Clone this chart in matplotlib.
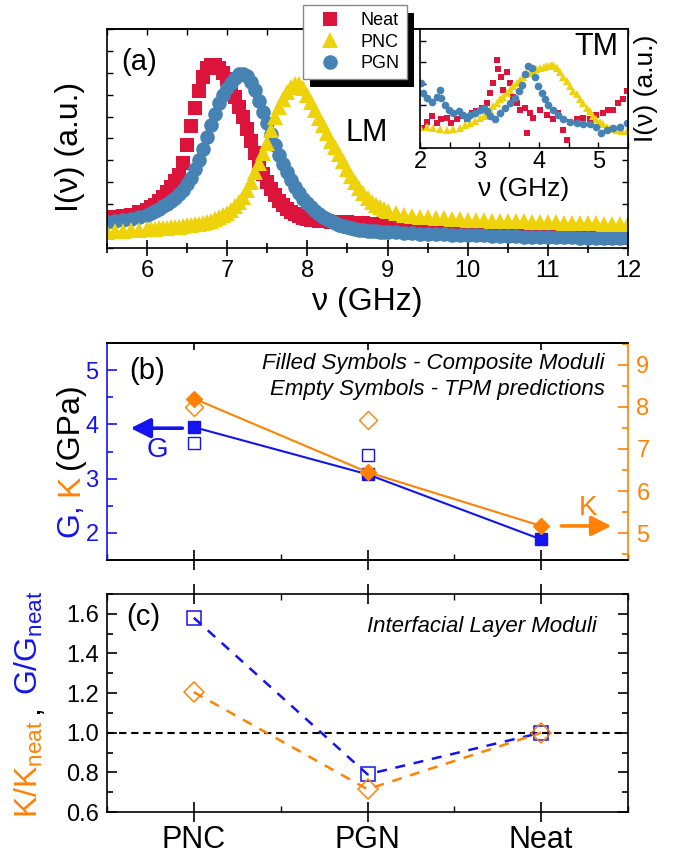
import matplotlib
matplotlib.use('Agg')
import matplotlib.pyplot as plt
from matplotlib.ticker import MultipleLocator, FixedLocator
from matplotlib.patches import Rectangle
from matplotlib.lines import Line2D

plt.rcParams['font.family'] = ['Liberation Sans', 'DejaVu Sans']
plt.rcParams['mathtext.fontset'] = 'custom'
plt.rcParams['mathtext.rm'] = 'Liberation Sans'
plt.rcParams['mathtext.it'] = 'Liberation Sans:italic'
plt.rcParams['axes.linewidth'] = 1.2

RED, YEL, STB = '#DC143C', '#EED20A', '#4682B4'
BLUE, ORNG = '#1414F0', '#FF8205'

# (a) longitudinal mode spectra, normalised intensity
freq_lm = [5.5, 5.6, 5.7, 5.8, 5.9,
           6.0, 6.05, 6.1, 6.15, 6.2, 6.25, 6.3, 6.35, 6.4, 6.45,
           6.5, 6.55, 6.6, 6.65, 6.7, 6.75, 6.8, 6.85, 6.9, 6.95,
           7.0, 7.05, 7.1, 7.15, 7.2, 7.25, 7.3, 7.35, 7.4, 7.45,
           7.5, 7.55, 7.6, 7.65, 7.7, 7.75, 7.8, 7.85, 7.9, 7.95,
           8.0, 8.05, 8.1, 8.15, 8.2, 8.25, 8.3, 8.35, 8.4, 8.45,
           8.5, 8.55, 8.6, 8.65, 8.7, 8.75, 8.8, 8.85, 8.9, 8.95, 9.0,
           9.1, 9.2, 9.3, 9.4, 9.5, 9.6, 9.7, 9.8, 9.9, 10.0,
           10.1, 10.2, 10.3, 10.4, 10.5, 10.6, 10.7, 10.8, 10.9, 11.0,
           11.1, 11.2, 11.3, 11.4, 11.5, 11.6, 11.7, 11.8, 11.9, 12.0]
neat_lm = [.135, .14, .145, .152, .162,
           .174, .185, .197, .215, .235, .257, .28, .305, .335, .39,
           .47, .555, .64, .715, .78, .82, .835, .835, .82, .80,
           .77, .73, .69, .645, .60, .545, .49, .435, .38, .34,
           .30, .27, .24, .215, .195, .18, .165, .155, .145, .138,
           .132, .129, .126, .124, .122, .121, .12, .119, .118, .118,
           .117, .116, .115, .114, .112, .11, .108, .105, .103, .10, .098,
           .093, .089, .085, .081, .078, .075, .072, .069, .066, .064,
           .062, .061, .06, .058, .057, .056, .055, .054, .053, .052,
           .051, .05, .05, .049, .048, .048, .047, .047, .046, .046]
pnc_lm = [.075, .077, .079, .081, .083,
          .086, .087, .088, .09, .091, .093, .094, .096, .098, .10,
          .103, .105, .108, .111, .115, .12, .125, .132, .14, .15,
          .16, .175, .19, .21, .235, .265, .30, .345, .39, .435,
          .48, .54, .60, .645, .68, .71, .735, .75, .75, .73,
          .70, .665, .63, .595, .56, .525, .49, .46, .43, .395,
          .36, .33, .30, .275, .25, .23, .21, .197, .185, .176, .168,
          .158, .15, .146, .142, .14, .137, .135, .133, .131, .128,
          .127, .126, .125, .124, .123, .122, .121, .12, .119, .118,
          .117, .116, .115, .114, .113, .112, .111, .11, .109, .108]
pgn_lm = [.12, .122, .126, .132, .14,
          .152, .16, .17, .18, .19, .202, .215, .23, .245, .265,
          .29, .32, .36, .40, .45, .505, .56, .61, .66, .70,
          .73, .755, .775, .795, .795, .785, .76, .72, .67, .62,
          .57, .52, .47, .425, .385, .345, .31, .28, .25, .225,
          .205, .185, .17, .155, .143, .132, .122, .113, .106, .10,
          .094, .09, .086, .083, .081, .079, .077, .076, .075, .074, .073,
          .071, .069, .067, .066, .064, .063, .062, .061, .06, .059,
          .058, .057, .056, .055, .054, .053, .052, .051, .05, .05,
          .049, .048, .048, .047, .047, .046, .046, .045, .045, .045]

# (a) inset, transverse mode
neat_tm_f = [2.03, 2.11, 2.2, 2.28, 2.36, 2.45, 2.53, 2.62, 2.7, 2.79, 2.87, 2.95, 3.04, 3.12,
             3.18, 3.23, 3.29, 3.32, 3.37, 3.4, 3.46, 3.52, 3.57, 3.63, 3.68, 3.77, 3.8, 3.85,
             3.91, 4.02, 4.13, 4.24, 4.33, 4.41, 4.47, 4.53, 4.64, 4.75, 4.86, 4.97, 5.08,
             5.17, 5.25, 5.33, 5.42, 5.48]
neat_tm = [.17, .22, .27, .21, .24, .25, .21, .24, .27, .24, .29, .31, .34, .38,
           .46, .55, .74, .66, .6, .49, .64, .55, .43, .38, .32, .34, .13, .29,
           .25, .32, .28, .24, .29, .15, .07, .22, .24, .25, .24, .28, .29,
           .32, .32, .38, .41, .48]
pnc_tm_f = [2.0, 2.11, 2.22, 2.33, 2.45, 2.56, 2.67, 2.76, 2.84, 2.93, 3.01, 3.07, 3.12, 3.18,
            3.23, 3.29, 3.35, 3.4, 3.46, 3.52, 3.57, 3.63, 3.68, 3.74, 3.79, 3.85, 3.91, 3.96,
            4.02, 4.08, 4.13, 4.18, 4.22, 4.26, 4.3, 4.36, 4.41, 4.47, 4.53, 4.58, 4.64, 4.7,
            4.75, 4.81, 4.86, 4.92, 4.97, 5.03, 5.08, 5.14, 5.2, 5.26, 5.31, 5.4, 5.48]
pnc_tm = [.18, .175, .17, .16, .15, .16, .17, .19, .21, .23, .25, .27, .29, .32,
          .35, .38, .41, .43, .46, .49, .52, .55, .57, .6, .62, .63, .64, .66,
          .67, .68, .69, .69, .695, .69, .67, .64, .6, .56, .52, .48, .45, .41,
          .38, .34, .31, .27, .24, .22, .2, .18, .17, .16, .15, .145, .14]
pgn_tm_f = [2.01, 2.05, 2.11, 2.2, 2.28, 2.33, 2.36, 2.42, 2.48, 2.56, 2.65, 2.73, 2.79, 2.84,
            2.93, 3.01, 3.07, 3.12, 3.18, 3.26, 3.35, 3.43, 3.52, 3.6, 3.66, 3.71, 3.77, 3.82,
            3.88, 3.94, 3.99, 4.05, 4.1, 4.16, 4.24, 4.33, 4.41, 4.53, 4.64, 4.75, 4.86,
            4.97, 5.05, 5.14, 5.25, 5.36, 5.48]
pgn_tm = [.55, .46, .42, .39, .43, .49, .42, .36, .32, .29, .31, .28, .25, .28,
          .29, .32, .34, .31, .27, .24, .29, .34, .38, .42, .48, .53, .62, .69,
          .67, .6, .52, .46, .41, .36, .32, .28, .24, .22, .21, .2, .2,
          .18, .13, .15, .17, .18, .21]

# (b) composite moduli (filled) and TPM predictions (empty)
samples = ['PNC', 'PGN', 'Neat']
g_comp = [3.95, 3.08, 1.88]
k_comp = [8.2, 6.45, 5.17]
g_tpm = [3.65, 3.43]
k_tpm = [8.0, 7.69]

# (c) interfacial layer moduli
g_ratio = [1.58, 0.79, 1.0]
k_ratio = [1.205, 0.715, 1.0]

TICK = 17
LAB = 23

fig = plt.figure(figsize=(6.75, 8.58), dpi=100)

# ---------------- (a)
ax = fig.add_axes([0.1585, 0.711, 0.7719, 0.2552])
ax.plot(freq_lm, neat_lm, 's', color=RED, ms=10, mew=0, label='Neat')
ax.plot(freq_lm, pgn_lm, 'o', color=STB, ms=10.5, mew=0, label='PGN')
ax.plot(freq_lm, pnc_lm, '^', color=YEL, ms=11.5, mew=0, label='PNC')
ax.set_xlim(5.5, 12)
ax.set_ylim(0, 1)
ax.xaxis.set_major_locator(MultipleLocator(1))
ax.xaxis.set_minor_locator(MultipleLocator(0.5))
ax.yaxis.set_major_locator(MultipleLocator(0.1))
ax.tick_params(axis='x', which='major', direction='inout', length=11, width=1.2,
               labelsize=TICK, pad=3)
ax.tick_params(axis='x', which='minor', direction='inout', length=7, width=1.2)
ax.tick_params(axis='y', which='major', direction='in', length=4, width=1,
               left=True, right=True, labelleft=False)
top_a = ax.secondary_xaxis('top')
top_a.xaxis.set_major_locator(MultipleLocator(0.5))
top_a.tick_params(direction='in', length=4, width=1, labeltop=False)
ax.set_xlabel('ν (GHz)', fontsize=LAB, labelpad=4)
ax.text(0.061, 0.85, '(a)', transform=ax.transAxes, fontsize=21, ha='center', va='center')
ax.text(8.74, 0.525, 'LM', fontsize=22, ha='center', va='center')
fig.text(70 / 675, 1 - 147 / 858, 'I(ν) (a.u.)', rotation=90, fontsize=LAB,
         ha='center', va='center')

# inset
ins = fig.add_axes([0.6222, 0.8275, 0.3081, 0.1387], zorder=3)
ins.plot(neat_tm_f, neat_tm, 's', color=RED, ms=5, mew=0)
ins.plot(pnc_tm_f, pnc_tm, '^', color=YEL, ms=6, mew=0)
ins.plot(pgn_tm_f, pgn_tm, 'o', color=STB, ms=5.5, mew=0)
ins.set_xlim(2, 5.5)
ins.set_ylim(0, 1)
ins.xaxis.set_major_locator(MultipleLocator(1))
ins.xaxis.set_minor_locator(MultipleLocator(0.5))
ins.yaxis.set_major_locator(MultipleLocator(0.18))
ins.tick_params(axis='both', which='both', direction='in', length=4, width=1)
ins.tick_params(axis='x', labelsize=TICK, pad=2)
ins.tick_params(axis='y', labelleft=False)
ins.set_xlabel('ν (GHz)', fontsize=19, labelpad=3)
ins.yaxis.set_label_position('right')
ins.set_ylabel('I(ν) (a.u.)', fontsize=19, labelpad=4)
ins.text(0.85, 0.85, 'TM', transform=ins.transAxes, fontsize=22, ha='center', va='center')

handles = [Line2D([], [], ls='none', marker='s', color=RED, ms=10, mew=0),
           Line2D([], [], ls='none', marker='^', color=YEL, ms=11.5, mew=0),
           Line2D([], [], ls='none', marker='o', color=STB, ms=10.5, mew=0)]
leg = fig.legend(handles, ['Neat', 'PNC', 'PGN'], loc='upper left',
                 bbox_to_anchor=(303 / 675, 1 - 5 / 858), fontsize=13,
                 fancybox=False, framealpha=1, edgecolor='#888888',
                 borderpad=0.4, handlelength=2.2, handletextpad=0.6,
                 labelspacing=0.25, borderaxespad=0)
leg.get_frame().set_linewidth(1.0)
leg.set_zorder(6)

# ---------------- (b)
xb = list(range(len(samples)))
axb = fig.add_axes([0.1585, 0.3473, 0.7719, 0.2529])
axk = axb.twinx()
axb.plot(xb, g_comp, '-s', color=BLUE, lw=1.5, ms=8)
axb.plot(xb[:2], g_tpm, 's', mfc='none', mec=BLUE, ms=9, mew=1)
axk.plot(xb, k_comp, '-D', color=ORNG, lw=1.5, ms=8.5)
axk.plot(xb[:2], k_tpm, 'D', mfc='none', mec=ORNG, ms=9.5, mew=1)
axb.set_xlim(-0.5, 2.5)
axb.set_ylim(1.5, 5.5)
axk.set_ylim(4.36, 9.52)
axb.spines['left'].set_color(BLUE)
axb.spines['right'].set_visible(False)
axk.spines['left'].set_visible(False)
axk.spines['right'].set_color(ORNG)
axb.xaxis.set_major_locator(FixedLocator(xb))
axb.xaxis.set_minor_locator(MultipleLocator(0.5))
axb.tick_params(axis='x', which='major', direction='inout', length=15, width=1.2,
                labelbottom=False)
axb.tick_params(axis='x', which='minor', direction='in', length=4, width=1)
top_b = axb.secondary_xaxis('top')
top_b.xaxis.set_major_locator(FixedLocator(xb))
top_b.tick_params(direction='in', length=5, width=1.2, labeltop=False)
axb.yaxis.set_major_locator(MultipleLocator(1))
axb.yaxis.set_minor_locator(MultipleLocator(0.5))
axb.tick_params(axis='y', which='both', direction='in', color=BLUE, labelcolor=BLUE,
                labelsize=TICK, pad=6, width=1.2)
axb.tick_params(axis='y', which='major', length=7)
axb.tick_params(axis='y', which='minor', length=4)
axk.yaxis.set_major_locator(MultipleLocator(1))
axk.yaxis.set_minor_locator(MultipleLocator(0.5))
axk.tick_params(axis='y', which='both', direction='in', color=ORNG, labelcolor=ORNG,
                labelsize=TICK, pad=6, width=1.2)
axk.tick_params(axis='y', which='major', length=7)
axk.tick_params(axis='y', which='minor', length=4)

axb.annotate('', xy=(-0.38, 3.93), xytext=(-0.05, 3.93),
             arrowprops=dict(arrowstyle='-|>', color=BLUE, lw=2.6, mutation_scale=30))
axb.text(-0.21, 3.52, 'G', color=BLUE, fontsize=20, ha='center', va='center')
axk.annotate('', xy=(2.42, 5.17), xytext=(2.1, 5.17),
             arrowprops=dict(arrowstyle='-|>', color=ORNG, lw=2.6, mutation_scale=30))
axk.text(2.27, 5.6, 'K', color=ORNG, fontsize=20, ha='center', va='center')
axb.text(0.077, 0.87, '(b)', transform=axb.transAxes, fontsize=21, ha='center', va='center')
axb.text(0.956, 0.905, 'Filled Symbols - Composite Moduli', transform=axb.transAxes,
         fontsize=16, style='italic', ha='right', va='center')
axb.text(0.956, 0.785, 'Empty Symbols - TPM predictions', transform=axb.transAxes,
         fontsize=16, style='italic', ha='right', va='center')

# ---------------- (c)
axc = fig.add_axes([0.1585, 0.0536, 0.7719, 0.2541])
axc.axhline(1.0, color='k', lw=1.5, ls=(0, (3.5, 2.3)))
axc.plot(xb, g_ratio, 's', ls=(0, (4, 3.5)), color=BLUE, mfc='none', mec=BLUE,
         lw=1.8, ms=10, mew=1.1)
axc.plot(xb, k_ratio, 'D', ls=(0, (4, 3.5)), color=ORNG, mfc='none', mec=ORNG,
         lw=1.8, ms=10, mew=1.1)
axc.set_xlim(-0.5, 2.5)
axc.set_ylim(0.6, 1.7)
axc.xaxis.set_major_locator(FixedLocator(xb))
axc.set_xticklabels(samples)
axc.xaxis.set_minor_locator(MultipleLocator(0.5))
axc.tick_params(axis='x', which='major', direction='inout', length=15, width=1.2,
                labelsize=22, pad=2, top=True)
axc.tick_params(axis='x', which='minor', direction='in', length=4, width=1, top=True)
axc.yaxis.set_major_locator(MultipleLocator(0.2))
axc.yaxis.set_minor_locator(MultipleLocator(0.1))
axc.tick_params(axis='y', which='both', direction='in', right=True, labelsize=TICK,
                pad=6, width=1.2)
axc.tick_params(axis='y', which='major', length=7)
axc.tick_params(axis='y', which='minor', length=4)
axc.text(0.069, 0.894, '(c)', transform=axc.transAxes, fontsize=21, ha='center', va='center')
axc.text(0.94, 0.85, 'Interfacial Layer Moduli', transform=axc.transAxes,
         fontsize=16, style='italic', ha='right', va='center')

# multicoloured rotated y labels, pieces stacked bottom to top
fig.canvas.draw()
renderer = fig.canvas.get_renderer()
H = fig.bbox.height


def stacked_label(x_px, y_px, parts):
    y = H - y_px
    for text, color, gap in parts:
        y += gap
        t = fig.text(x_px / fig.bbox.width, y / H, text, color=color, fontsize=LAB,
                     rotation=90, rotation_mode='anchor', ha='left', va='baseline')
        y = t.get_window_extent(renderer).y1


stacked_label(78, 537, [('G,', BLUE, 0), ('K', ORNG, 7), ('(GPa)', 'k', 6)])
stacked_label(38, 818, [(r'K/K$_{\mathrm{neat}}$', ORNG, 0), (',', 'k', 7),
                        (r'G/G$_{\mathrm{neat}}$', BLUE, 10)])

# black drop shadow behind the legend box
bb = leg.get_window_extent(renderer)
shadow = Rectangle(((bb.x0 + 7) / fig.bbox.width, (bb.y0 - 8) / H),
                   bb.width / fig.bbox.width, bb.height / H,
                   transform=fig.transFigure, facecolor='k', edgecolor='none', zorder=5)
fig.add_artist(shadow)

fig.savefig('out.png', dpi=100)
